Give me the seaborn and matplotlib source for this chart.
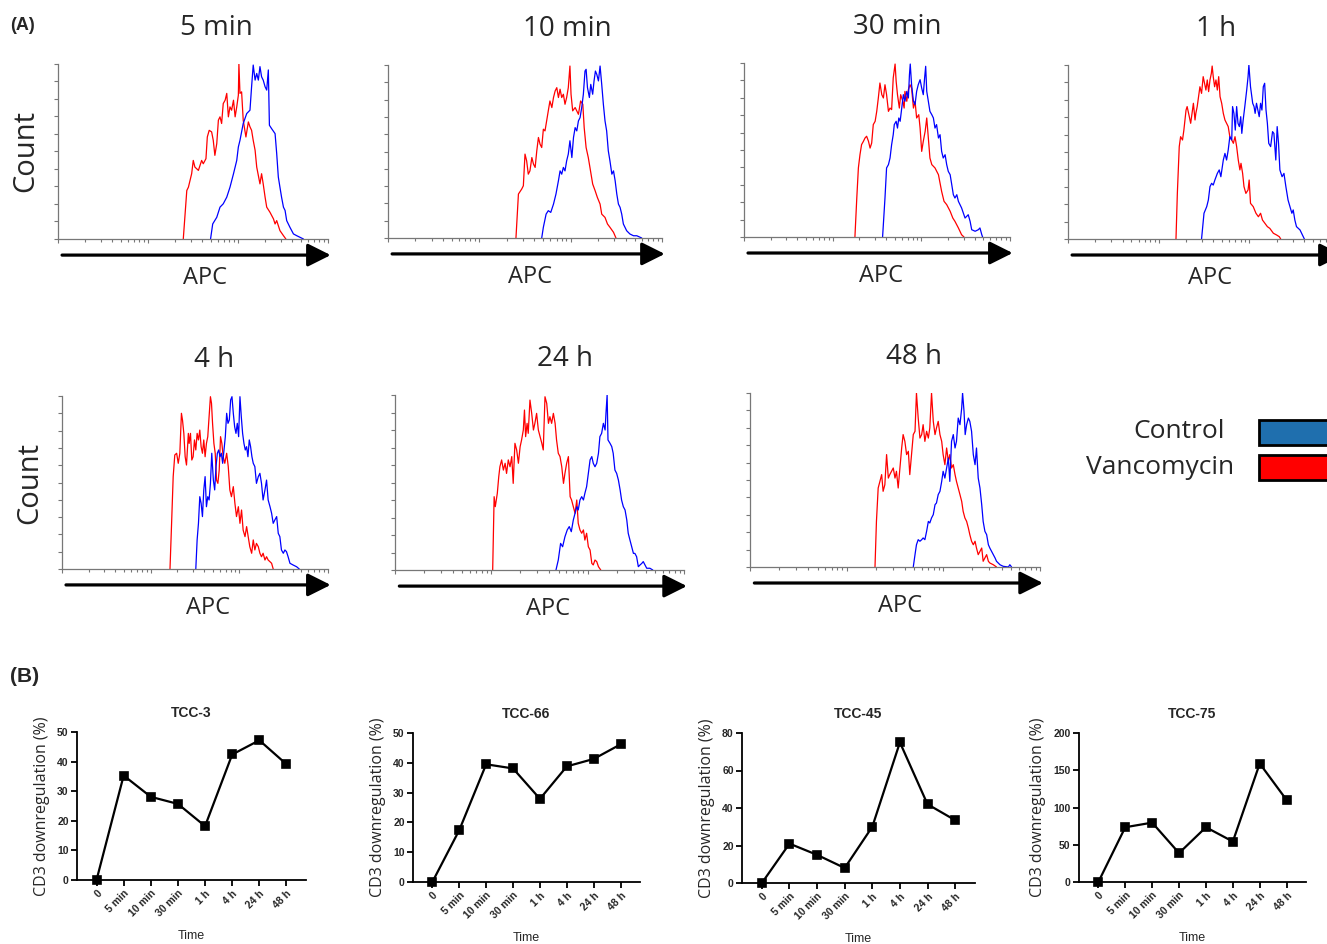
import numpy as np
import pandas as pd
import matplotlib
matplotlib.use('Agg')
import matplotlib.pyplot as plt
from matplotlib.patches import Rectangle
from matplotlib.ticker import LogLocator, NullFormatter
import seaborn as sns

sns.set_style('white')
plt.rcParams['font.family'] = ['Open Sans', 'DejaVu Sans']

# ---------------- data: panel A flow histograms ----------------
# (channel on a 0-100 scale spanning 3 log decades, count as % of peak)
vanc_5min = [(46.4, 0), (47.7, 27.7), (48.3, 29.6), (49.5, 37.3), (50.1, 44.9), (50.7, 41.1), (52.0, 39.2),
             (53.2, 44.9), (53.8, 43.0), (54.8, 45.9), (55.3, 58.3), (56.0, 62.1), (56.9, 61.2), (57.5, 56.4),
             (58.1, 47.8), (58.8, 54.5), (59.4, 67.9), (60.0, 69.8), (60.6, 66.0), (61.2, 77.4), (61.9, 79.3),
             (62.5, 83.2), (63.1, 69.8), (63.7, 75.5), (64.3, 73.6), (65.0, 79.3), (65.6, 69.8), (66.2, 75.5),
             (66.8, 82.2), (67.0, 100), (67.4, 83.2), (68.0, 84.1), (68.6, 67.9), (69.6, 58.3), (70.5, 66.9),
             (71.1, 64.1), (71.7, 62.1), (72.3, 56.4), (73.0, 50.7), (73.6, 41.1), (74.2, 36.3), (74.8, 31.5),
             (75.4, 37.3), (76.0, 31.5), (76.7, 23.9), (77.3, 18.2), (78.5, 15.3), (79.8, 11.5), (80.4, 8.6),
             (81.0, 10.5), (82.2, 4.8), (83.5, 1.9), (84.4, 0)]
ctrl_5min = [(56.5, 0), (57.3, 8.6), (58.8, 12.4), (60.0, 18.2), (61.2, 20.1), (62.5, 23.9), (63.7, 29.6),
             (65.0, 37.3), (66.2, 44.9), (66.8, 52.6), (67.4, 56.4), (68.6, 66.0), (69.9, 71.7), (71.1, 73.6),
             (71.7, 87.0), (72.3, 99.4), (73.0, 90.8), (73.6, 94.6), (74.2, 90.8), (74.8, 98.5), (75.4, 92.7),
             (76.0, 90.8), (76.7, 87.0), (77.3, 85.1), (77.9, 96.6), (78.3, 65.0), (79.1, 63.1), (80.4, 60.2),
             (81.0, 48.8), (81.6, 35.4), (82.2, 29.6), (82.8, 23.9), (83.5, 18.2), (84.1, 16.3), (84.7, 10.5),
             (85.9, 6.7), (87.2, 2.9), (88.4, 1.9), (89.6, 1.0), (90.9, 0)]

vanc_10min = [(46.7, 0), (47.6, 25.4), (48.8, 28.3), (49.4, 30.2), (50.0, 48.5), (50.6, 44.6), (51.2, 36.9),
              (51.8, 38.8), (52.5, 46.5), (53.1, 42.7), (53.7, 40.8), (54.3, 50.4), (54.9, 58.1), (55.5, 54.2),
              (56.1, 52.3), (56.7, 62.9), (57.3, 61.9), (57.9, 67.7), (58.5, 73.5), (59.1, 79.2), (59.8, 75.4),
              (60.4, 81.2), (61.0, 85.0), (61.6, 86.9), (62.2, 81.2), (62.8, 86.0), (63.4, 81.2), (64.0, 83.1),
              (64.6, 77.3), (65.2, 81.2), (65.8, 86.9), (66.4, 99.4), (66.8, 83.1), (67.4, 73.5), (68.3, 75.4),
              (69.5, 71.5), (70.3, 79.2), (71.1, 77.3), (71.6, 63.8), (72.3, 52.3), (73.1, 46.5), (73.7, 40.8),
              (74.7, 31.2), (75.6, 27.3), (76.4, 23.5), (77.4, 19.6), (78.0, 13.8), (79.2, 11.9), (80.1, 8.1),
              (81.0, 6.2), (82.3, 3.3), (83.2, 0)]
ctrl_10min = [(56.1, 0), (56.7, 6.2), (57.7, 13.8), (58.5, 15.8), (59.4, 14.8), (60.4, 19.6), (61.3, 25.4),
              (62.2, 33.1), (62.8, 38.8), (63.4, 36.9), (64.0, 40.8), (64.6, 38.8), (65.2, 44.6), (65.8, 48.5),
              (66.4, 56.2), (67.1, 46.5), (67.7, 58.1), (68.3, 63.8), (68.9, 61.9), (69.5, 67.7), (70.1, 69.6),
              (70.7, 75.4), (71.3, 83.1), (71.9, 96.5), (72.3, 97.5), (72.8, 86.9), (73.5, 81.2), (74.0, 88.8),
              (74.7, 83.1), (75.2, 90.8), (75.7, 96.5), (76.2, 94.6), (76.8, 90.8), (77.4, 99.4), (78.0, 88.8),
              (78.6, 77.3), (79.2, 67.7), (79.8, 61.9), (80.4, 50.4), (81.0, 44.6), (81.7, 36.9), (82.3, 38.8),
              (82.9, 33.1), (83.5, 25.4), (84.1, 19.6), (84.7, 17.7), (85.3, 13.8), (85.9, 8.1), (87.1, 4.2),
              (88.3, 2.3), (89.6, 1.3), (90.8, 1.3), (92.6, 0)]

vanc_30min = [(41.7, 0), (42.4, 22.4), (43.0, 39.7), (43.6, 47.3), (44.2, 53.1), (44.9, 55.0), (45.5, 56.9),
              (46.1, 57.9), (46.8, 55.0), (47.4, 51.1), (48.0, 54.0), (48.6, 64.6), (49.3, 66.5), (49.9, 72.2),
              (50.5, 79.9), (51.1, 88.5), (51.8, 81.8), (52.4, 79.9), (53.0, 87.5), (53.6, 81.8), (54.3, 72.2),
              (54.9, 74.1), (55.5, 73.2), (56.1, 91.4), (56.8, 99.4), (57.2, 89.5), (57.7, 81.8), (58.4, 74.1),
              (58.9, 81.8), (59.7, 78.0), (60.2, 74.1), (60.5, 83.7), (61.2, 78.0), (61.8, 84.7), (62.4, 87.5),
              (63.0, 85.6), (63.7, 74.1), (64.3, 78.0), (64.9, 68.4), (65.7, 70.3), (66.2, 62.6), (66.8, 49.2),
              (67.4, 55.0), (68.1, 60.7), (68.7, 68.4), (69.3, 56.9), (69.9, 45.4), (70.6, 41.6), (71.8, 39.7),
              (73.1, 35.8), (74.3, 26.2), (75.2, 20.5), (76.2, 18.6), (77.5, 14.8), (78.5, 10.9), (79.3, 9.0),
              (80.6, 5.2), (81.8, 1.3), (82.7, 0)]
ctrl_30min = [(52.1, 0), (53.0, 22.4), (53.6, 39.7), (54.3, 41.6), (54.9, 45.4), (55.5, 53.1), (56.1, 58.8),
              (56.5, 64.6), (57.2, 66.5), (57.7, 62.6), (58.2, 68.4), (58.7, 66.5), (59.3, 74.1), (59.9, 81.8),
              (60.5, 78.0), (61.2, 83.7), (61.8, 79.9), (62.2, 93.3), (62.5, 99.4), (63.0, 87.5), (63.7, 78.0),
              (64.3, 76.1), (64.9, 83.7), (65.5, 87.5), (66.2, 90.4), (66.8, 85.6), (67.4, 81.8), (67.9, 91.4),
              (68.3, 98.1), (68.7, 83.7), (69.3, 78.0), (69.9, 72.2), (70.6, 70.3), (71.2, 68.4), (71.8, 62.6),
              (72.4, 64.6), (73.1, 56.9), (73.7, 58.8), (74.3, 49.2), (74.9, 45.4), (75.6, 47.3), (76.2, 41.6),
              (76.8, 37.7), (77.5, 35.8), (78.1, 30.1), (78.7, 24.3), (79.3, 22.4), (80.0, 24.3), (80.6, 20.5),
              (81.8, 16.7), (83.1, 10.9), (84.3, 12.8), (85.0, 9.0), (85.6, 4.2), (86.9, 3.3), (88.1, 4.2),
              (88.7, 5.2), (89.4, 1.3), (89.7, 0)]

vanc_1h = [(39.7, 0), (40.2, 26.2), (40.9, 53.1), (41.4, 58.8), (42.1, 56.9), (42.6, 62.6), (43.4, 74.1),
           (43.8, 76.1), (44.6, 70.3), (45.1, 66.5), (45.6, 72.2), (46.1, 78.0), (46.7, 68.4), (47.0, 72.2),
           (47.5, 76.1), (48.0, 81.8), (48.5, 87.5), (49.1, 83.7), (49.7, 93.3), (50.2, 89.5), (50.7, 85.6),
           (51.2, 91.4), (51.7, 84.7), (52.2, 91.4), (52.7, 95.2), (53.0, 99.4), (53.4, 93.3), (53.9, 87.5),
           (54.4, 91.4), (54.9, 85.6), (55.4, 93.3), (55.9, 81.8), (56.5, 78.0), (57.1, 72.2), (57.7, 68.4),
           (58.3, 66.5), (58.9, 64.6), (59.5, 58.8), (60.2, 56.9), (60.8, 55.0), (61.4, 58.8), (62.0, 53.1),
           (62.6, 45.4), (63.2, 39.7), (63.6, 43.5), (64.2, 37.7), (64.7, 30.1), (65.4, 26.2), (66.2, 28.2),
           (66.6, 33.9), (67.1, 20.5), (68.1, 18.6), (69.1, 14.8), (70.0, 12.8), (70.8, 14.8), (71.5, 10.9),
           (72.4, 9.0), (73.3, 7.1), (74.2, 6.1), (75.5, 3.3), (76.7, 2.3), (77.7, 1.3), (78.2, 0)]
ctrl_1h = [(49.1, 0), (50.0, 14.8), (51.0, 18.6), (51.6, 22.4), (52.2, 30.1), (52.8, 32.0), (53.4, 31.0),
           (54.0, 33.9), (54.9, 37.7), (55.6, 39.7), (56.2, 35.8), (57.1, 45.4), (57.7, 49.2), (58.3, 45.4),
           (58.9, 51.1), (59.5, 58.8), (60.2, 56.9), (60.5, 76.1), (61.0, 72.2), (61.5, 62.6), (62.0, 76.1),
           (62.5, 66.5), (63.0, 64.6), (63.5, 70.3), (63.9, 60.7), (64.4, 68.4), (65.0, 76.1), (65.7, 85.6),
           (66.2, 93.3), (66.5, 100), (67.1, 87.5), (67.9, 78.0), (68.4, 76.1), (68.8, 72.2), (69.3, 78.0),
           (69.8, 74.1), (70.3, 70.3), (70.8, 78.0), (71.3, 74.1), (71.8, 87.5), (72.3, 89.5), (72.8, 74.1),
           (73.3, 66.5), (73.8, 55.0), (74.5, 53.1), (75.2, 61.7), (75.7, 60.7), (76.4, 45.4), (76.9, 64.6),
           (77.4, 55.0), (77.9, 39.7), (78.7, 35.8), (79.4, 37.7), (80.1, 30.1), (80.9, 22.4), (81.6, 18.6),
           (82.3, 14.8), (82.8, 16.7), (83.4, 10.9), (84.0, 7.1), (85.3, 5.2), (86.5, 1.3), (86.9, 0)]

vanc_4h = [(40.6, 0), (41.2, 26.4), (41.8, 53.4), (42.4, 65.9), (43.1, 66.9), (43.7, 61.1), (44.3, 66.9),
           (44.9, 90.0), (45.3, 86.1), (45.8, 78.4), (46.3, 64.9), (46.8, 60.1), (47.5, 78.4), (47.8, 72.6),
           (48.3, 78.4), (48.8, 63.0), (49.3, 64.9), (49.8, 74.6), (50.3, 68.8), (50.8, 78.4), (51.3, 74.6),
           (51.8, 80.3), (52.3, 70.7), (52.8, 66.9), (53.3, 74.6), (53.8, 64.9), (54.3, 72.6), (54.8, 76.5),
           (55.3, 88.1), (55.8, 99.6), (56.2, 95.8), (56.6, 84.2), (57.1, 72.6), (57.6, 66.9), (58.1, 51.4),
           (58.6, 49.5), (59.1, 57.2), (59.6, 76.5), (60.1, 72.6), (60.6, 64.9), (61.2, 61.1), (61.9, 66.9),
           (62.5, 59.2), (63.1, 45.7), (63.7, 41.8), (64.4, 47.6), (65.0, 38.0), (65.6, 30.3), (66.3, 36.0),
           (66.9, 26.4), (67.5, 34.1), (68.1, 22.5), (68.8, 18.7), (69.4, 24.5), (70.0, 18.7), (70.6, 12.9),
           (71.3, 9.1), (71.9, 16.8), (72.5, 11.0), (73.1, 14.8), (73.8, 12.9), (74.4, 9.1), (75.0, 7.1),
           (75.6, 9.1), (76.3, 5.2), (76.9, 7.1), (77.5, 5.2), (78.2, 4.2), (78.8, 3.3), (79.4, 0)]
ctrl_4h = [(50.3, 0), (50.8, 16.8), (51.3, 26.4), (51.8, 41.8), (52.3, 38.0), (52.8, 30.3), (53.3, 45.7),
           (53.8, 53.4), (54.3, 36.0), (54.8, 41.8), (55.3, 39.9), (55.8, 49.5), (56.3, 66.9), (56.9, 51.4),
           (57.4, 45.7), (57.9, 59.2), (58.4, 66.9), (58.9, 68.8), (59.4, 64.9), (59.9, 66.9), (60.4, 61.1),
           (60.9, 68.8), (61.4, 76.5), (61.9, 90.0), (62.4, 84.2), (62.9, 86.1), (63.4, 97.7), (63.9, 99.6),
           (64.4, 90.0), (64.9, 82.3), (65.4, 78.4), (65.9, 84.2), (66.4, 76.5), (66.9, 99.6), (67.4, 88.1),
           (67.9, 78.4), (68.4, 72.6), (68.9, 68.8), (69.4, 70.7), (69.9, 64.9), (70.4, 74.6), (70.9, 70.7),
           (71.4, 64.9), (71.9, 61.1), (72.5, 59.2), (73.1, 49.5), (73.8, 53.4), (74.4, 55.3), (75.0, 49.5),
           (75.6, 39.9), (76.3, 45.7), (76.9, 51.4), (77.5, 39.9), (78.2, 36.0), (78.8, 32.2), (79.4, 26.4),
           (80.0, 28.3), (80.7, 30.3), (81.3, 20.6), (81.9, 18.7), (82.5, 11.0), (83.2, 9.1), (83.8, 11.0),
           (84.4, 10.0), (85.0, 7.1), (85.7, 3.3), (86.9, 2.3), (88.2, 1.3), (89.2, 0)]

vanc_24h = [(33.8, 0), (34.3, 41.9), (34.7, 36.2), (35.4, 43.8), (35.9, 53.3), (36.3, 59.0), (36.9, 62.9),
            (37.5, 57.1), (38.1, 61.0), (38.6, 55.2), (39.2, 62.9), (39.8, 59.0), (40.4, 64.8), (40.9, 49.5),
            (41.5, 72.4), (42.1, 68.6), (42.7, 61.0), (43.3, 70.5), (43.8, 74.3), (44.4, 80.0), (44.8, 91.4),
            (45.2, 76.2), (45.7, 83.8), (46.1, 78.1), (46.7, 97.1), (47.3, 89.5), (47.9, 80.0), (48.4, 83.8),
            (49.0, 89.5), (49.6, 80.0), (50.2, 76.2), (50.8, 72.4), (51.3, 68.6), (51.9, 99.0), (52.5, 95.2),
            (53.1, 83.8), (53.6, 87.6), (54.2, 83.8), (54.8, 89.5), (55.4, 83.8), (55.9, 74.3), (56.5, 66.7),
            (57.1, 64.8), (57.7, 59.0), (58.3, 49.5), (58.8, 55.2), (59.4, 61.0), (60.0, 64.8), (60.6, 41.9),
            (61.1, 40.0), (61.7, 36.2), (62.3, 32.4), (62.9, 40.0), (63.4, 26.7), (64.0, 22.9), (64.6, 21.0),
            (65.2, 22.9), (65.7, 17.1), (66.3, 21.0), (66.9, 13.3), (67.5, 11.4), (68.1, 3.8), (68.6, 2.9),
            (69.2, 5.7), (69.8, 4.8), (70.4, 1.9), (71.2, 0)]
ctrl_24h = [(55.7, 0), (56.5, 5.7), (57.3, 15.2), (58.0, 13.3), (58.8, 19.0), (59.6, 22.9), (60.3, 24.8),
            (61.0, 21.9), (61.7, 28.6), (62.3, 32.4), (62.9, 36.2), (63.4, 34.3), (64.0, 40.0), (64.6, 41.9),
            (65.2, 40.0), (65.7, 43.8), (66.3, 47.6), (66.9, 55.2), (67.5, 62.9), (68.1, 64.8), (68.6, 61.0),
            (69.2, 59.0), (69.8, 61.0), (70.4, 66.7), (70.9, 76.2), (71.5, 78.1), (72.1, 83.8), (72.7, 80.0),
            (73.0, 89.5), (73.4, 100), (73.7, 74.3), (74.4, 72.4), (75.0, 70.5), (75.5, 66.7), (76.1, 57.1),
            (76.7, 55.2), (77.3, 51.4), (77.9, 45.7), (78.4, 40.0), (79.0, 36.2), (79.6, 34.3), (80.2, 28.6),
            (80.7, 21.0), (81.3, 17.1), (81.9, 13.3), (82.5, 9.5), (83.0, 9.5), (83.6, 7.6), (84.2, 1.9),
            (84.8, 2.9), (85.4, 3.8), (85.9, 4.8), (86.5, 2.9), (87.1, 1.0), (88.2, 1.0), (89.2, 0)]

vanc_48h = [(43.1, 0), (43.6, 26.2), (44.2, 45.4), (44.8, 49.2), (45.4, 53.1), (45.9, 43.5), (46.5, 47.3),
            (47.1, 64.6), (47.7, 51.1), (48.2, 53.1), (48.8, 55.0), (49.4, 56.9), (50.0, 51.1), (50.5, 55.0),
            (51.1, 45.4), (51.7, 56.9), (52.3, 68.4), (52.8, 76.1), (53.4, 72.2), (54.0, 64.6), (54.6, 66.5),
            (55.1, 53.1), (55.7, 64.6), (56.3, 76.1), (56.9, 78.0), (57.4, 100), (58.0, 85.6), (58.6, 74.1),
            (59.2, 76.1), (59.7, 81.8), (60.3, 72.2), (60.9, 78.0), (61.5, 74.1), (62.0, 79.9), (62.6, 100),
            (63.2, 83.7), (63.8, 76.1), (64.3, 79.9), (64.9, 83.7), (65.5, 76.1), (66.1, 72.2), (66.6, 64.6),
            (67.2, 58.8), (67.8, 68.4), (68.4, 60.7), (68.9, 64.6), (69.5, 56.9), (70.1, 58.8), (70.7, 53.1),
            (71.2, 49.2), (71.8, 45.4), (72.4, 41.6), (73.0, 37.7), (73.5, 32.0), (74.1, 28.2), (74.7, 26.2),
            (75.3, 22.4), (75.8, 18.6), (76.4, 14.8), (77.0, 12.8), (77.6, 14.8), (78.1, 10.9), (78.7, 7.1),
            (79.3, 9.0), (79.9, 10.9), (80.4, 3.3), (81.0, 5.2), (81.6, 7.1), (82.2, 3.3), (82.7, 2.3),
            (83.9, 1.3), (85.0, 0)]
ctrl_48h = [(56.3, 0), (56.9, 7.1), (57.4, 12.8), (58.0, 15.7), (58.6, 14.8), (59.2, 15.7), (59.7, 16.7),
            (60.3, 15.7), (60.9, 20.5), (61.5, 26.2), (62.0, 25.3), (62.6, 28.2), (63.2, 30.1), (63.8, 35.8),
            (64.3, 36.8), (64.9, 41.6), (65.5, 43.5), (66.1, 49.2), (66.6, 55.0), (67.2, 51.1), (67.8, 56.9),
            (68.4, 62.6), (68.9, 49.2), (69.5, 72.2), (70.1, 76.1), (70.7, 68.4), (71.2, 72.2), (71.8, 85.6),
            (72.4, 81.8), (73.0, 91.4), (73.3, 100), (73.8, 89.5), (74.2, 76.1), (74.7, 81.8), (75.3, 85.6),
            (75.8, 83.7), (76.4, 78.0), (77.0, 64.6), (77.6, 58.8), (78.1, 68.4), (78.7, 51.1), (79.3, 45.4),
            (79.9, 35.8), (80.4, 26.2), (81.0, 20.5), (81.6, 18.6), (82.2, 12.8), (82.7, 10.9), (83.3, 9.0),
            (83.9, 7.1), (84.5, 5.2), (85.0, 3.3), (85.6, 2.3), (86.2, 1.3), (87.3, 0.4), (89.1, 0),
            (89.6, 1.3), (90.2, 0)]

# ---------------- data: panel B CD3 downregulation ----------------
time_labels = ['0', '5 min', '10 min', '30 min', '1 h', '4 h', '24 h', '48 h']
tcc3 = [0, 35.3, 28.1, 25.7, 18.2, 42.4, 47.2, 39.1]
tcc66 = [0, 17.4, 39.5, 38.1, 27.9, 38.8, 41.3, 46.2]
tcc45 = [0, 21.0, 15.0, 8.0, 30.0, 75.0, 42.0, 33.5]
tcc75 = [0, 73.5, 79.7, 38.8, 73.5, 54.3, 159.0, 110.0]

W, H = 1327, 944
RED, BLUE = '#ff0000', '#0000ff'
fig = plt.figure(figsize=(W / 100, H / 100), dpi=100)


def px_axes(left, top, right, bottom):
    return fig.add_axes([left / W, 1 - bottom / H, (right - left) / W, (bottom - top) / H])


def to_apc(trace):
    ch = np.array([p[0] for p in trace])
    return 10 ** (2 + 3 * ch / 100), np.array([p[1] for p in trace])


# title, axes box in pixels, title x / label x (axes fraction), red trace, blue trace, show 'Count'
hist_panels = [
    ('5 min', (58, 64, 328, 239), 0.585, 0.544, vanc_5min, ctrl_5min, True),
    ('10 min', (388, 65, 662, 238), 0.653, 0.518, vanc_10min, ctrl_10min, False),
    ('30 min', (744, 63, 1010, 237), 0.575, 0.515, vanc_30min, ctrl_30min, False),
    ('1 h', (1068, 65, 1340, 239), 0.544, 0.522, vanc_1h, ctrl_1h, False),
    ('4 h', (62, 396, 328, 569), 0.571, 0.549, vanc_4h, ctrl_4h, True),
    ('24 h', (395, 395, 684, 570), 0.588, 0.529, vanc_24h, ctrl_24h, False),
    ('48 h', (750, 393, 1040, 567), 0.566, 0.517, vanc_48h, ctrl_48h, False),
]

for title, box, tx, lx, red_tr, blue_tr, show_count in hist_panels:
    ax = px_axes(*box)
    for tr, col in [(red_tr, RED), (blue_tr, BLUE)]:
        x, y = to_apc(tr)
        sns.lineplot(x=x, y=y, color=col, lw=0.9, estimator=None, sort=False, ax=ax)
    ax.set_xscale('log')
    ax.set_xlim(1e2, 1e5)
    ax.set_ylim(0, 100)
    ax.xaxis.set_major_locator(LogLocator(base=10))
    ax.xaxis.set_minor_locator(LogLocator(base=10, subs=np.arange(2, 10)))
    ax.xaxis.set_major_formatter(NullFormatter())
    ax.xaxis.set_minor_formatter(NullFormatter())
    ax.set_yticks(np.arange(0, 101, 10))
    ax.set_yticklabels([])
    ax.tick_params(axis='both', which='major', direction='out', length=3, width=0.8, color='#777777',
                   bottom=True, left=True)
    ax.tick_params(axis='x', which='minor', direction='out', length=2.5, width=0.8, color='#777777',
                   bottom=True)
    for s in ['top', 'right']:
        ax.spines[s].set_visible(False)
    for s in ['left', 'bottom']:
        ax.spines[s].set_color('#777777')
        ax.spines[s].set_linewidth(0.9)
    ax.set_title(title, fontsize=20, pad=21, x=tx)
    ax.set_xlabel('APC', fontsize=17)
    ax.xaxis.set_label_coords(lx, -0.225, transform=ax.transAxes)
    ax.xaxis.label.set_va('center')
    if show_count:
        ax.set_ylabel('Count', fontsize=21, labelpad=6)
    else:
        ax.set_ylabel('')
    ax.annotate('', xy=(1.01, -0.092), xytext=(0.015, -0.092), xycoords='axes fraction',
                arrowprops=dict(arrowstyle='-|>,head_length=0.7,head_width=0.35', lw=2.3,
                                color='black', mutation_scale=20, shrinkA=0, shrinkB=0),
                annotation_clip=False)

# legend swatches for panel A
fig.text(1225 / W, 1 - 432 / H, 'Control', fontsize=19, ha='right', va='center')
fig.text(1234 / W, 1 - 468 / H, 'Vancomycin', fontsize=19, ha='right', va='center')
fig.add_artist(Rectangle((1259 / W, 1 - 445 / H), 90 / W, 25 / H, transform=fig.transFigure,
                         facecolor='#1f6fae', edgecolor='black', lw=2))
fig.add_artist(Rectangle((1259 / W, 1 - 480 / H), 90 / W, 25 / H, transform=fig.transFigure,
                         facecolor='#ff0000', edgecolor='black', lw=2))

# ---------------- panel B ----------------
line_panels = [
    ('TCC-3', (77, 732, 306, 880), tcc3, 50, 10),
    ('TCC-66', (413, 733, 640, 882), tcc66, 50, 10),
    ('TCC-45', (742, 733, 975, 883), tcc45, 80, 20),
    ('TCC-75', (1079, 733, 1306, 882), tcc75, 200, 50),
]
bold = dict(family='Liberation Sans', weight='bold')
for title, box, vals, ymax, ystep in line_panels:
    ax = px_axes(*box)
    df = pd.DataFrame({'Time': time_labels, 'Value': vals})
    sns.pointplot(data=df, x='Time', y='Value', order=time_labels, color='black', marker='s',
                  markersize=5.5, linewidth=1.6, ax=ax)
    for ln in ax.lines:
        ln.set_clip_on(False)
    for coll in ax.collections:
        coll.set_clip_on(False)
    ax.set_xlim(-0.72, 7.72)
    ax.set_ylim(0, ymax)
    ax.set_yticks(np.arange(0, ymax + 1, ystep))
    ax.set_yticklabels([str(v) for v in np.arange(0, ymax + 1, ystep)], fontdict=dict(size=7.5, **bold))
    ax.set_xticks(range(len(time_labels)))
    ax.set_xticklabels(time_labels, rotation=45, ha='right', rotation_mode='anchor',
                       fontdict=dict(size=7.5, **bold))
    ax.tick_params(axis='both', direction='out', length=4, width=1.3, color='black', pad=2,
                   bottom=True, left=True)
    for s in ['top', 'right']:
        ax.spines[s].set_visible(False)
    for s in ['left', 'bottom']:
        ax.spines[s].set_color('black')
        ax.spines[s].set_linewidth(1.3)
    ax.set_title(title, fontsize=10, pad=11, **bold)
    ax.set_xlabel('Time', fontsize=9, family='Liberation Sans', labelpad=8)
    ax.set_ylabel('CD3 downregulation (%)', fontsize=11.5, labelpad=5)

fig.text(10 / W, 1 - 26 / H, '(A)', fontsize=13, va='center', ha='left', **bold)
fig.text(10 / W, 1 - 676 / H, '(B)', fontsize=15, va='center', ha='left', **bold)

fig.savefig('out.png', dpi=100)
